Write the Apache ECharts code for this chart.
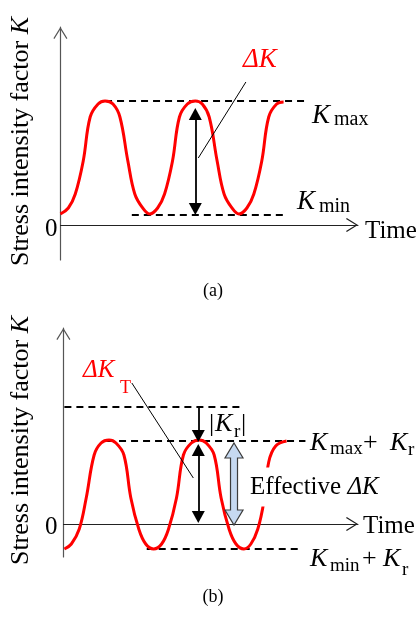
<!DOCTYPE html>
<html>
<head>
<meta charset="utf-8">
<script src="https://cdn.jsdelivr.net/npm/echarts@6/dist/echarts.min.js"></script>
<style>
  html, body { margin: 0; padding: 0; background: #fff; }
  #chart { width: 420px; height: 617px; }
</style>
</head>
<body>
<div id="chart"></div>
<script>
// schematic units; K = 0 is the time axis

// (a) cyclic loading
const curveA = [[0,11],[8,17],[15,31],[23,64],[30,108],[38,121],[45,124],[53,121],[60,108],[68,64],[75,31],[83,17],
  [90,11],[98,17],[105,31],[113,64],[120,108],[128,121],[136,124],[143,121],[150,108],[158,64],[165,31],[173,17],
  [180,11],[188,17],[195,31],[203,64],[210,108],[218,121],[225,123]];
const kmaxA = [[45,124],[247,124]];
const kminA = [[72,10],[227,10]];
const deltaArrowA = [[136,111],[136,16]];
const leaderA = [[187,143],[139,67]];

// (b) same loading shifted down by the residual K_r
const curveB = [[1,-25],[8,-20],[16,-5],[23,26],[31,69],[38,81],[46,84],[53,81],[61,69],[68,26],[76,-5],[83,-20],
  [91,-25],[99,-20],[106,-5],[114,26],[121,69],[129,81],[137,84],[144,81],[152,69],[159,26],[167,-5],[174,-20],
  [182,-25],[189,-20],[196,-5],[202,22],[207,62],[214,78],[225,83]];
const kmaxB = [[1,117],[179,117]];
const kmaxShiftB = [[44,83],[244,83]];
const kminShiftB = [[84,-25],[241,-25]];
const krArrowB = [[136,117],[136,88]];
const totalArrowB = [[136,74],[136,7]];
const effArrowB = [[172,81],[172,-1]];
const leaderB = [[69,141],[131,46]];

const serif = '"Liberation Serif", "DejaVu Serif", serif';
const chevron = 'path://M7,0 L14,11.2 L13,12 L7,2.2 L1,12 L0,11.2 Z';

function xAxisFor(gi, max, gap, padTop) {
  return {
    type: 'value', gridIndex: gi, min: 0, max: max,
    axisLine: { onZero: true, lineStyle: { color: '#222', width: 1 },
      symbol: ['none', chevron], symbolSize: [14, 12], symbolOffset: [0, -6] },
    axisTick: { show: false }, axisLabel: { show: false }, splitLine: { show: false },
    name: '{t|Time}', nameLocation: 'end', nameGap: gap,
    nameTextStyle: { align: 'left', verticalAlign: 'middle',
      rich: { t: { fontFamily: serif, fontSize: 25, color: '#000', padding: [padTop, 0, 0, 0] } } }
  };
}

function yAxisFor(gi, min, max, padTop, labelMargin) {
  return {
    type: 'value', gridIndex: gi, min: min, max: max,
    axisLine: { lineStyle: { color: '#555', width: 1.2 },
      symbol: ['none', chevron], symbolSize: [14, 12], symbolOffset: [0, -6] },
    axisTick: { show: false }, splitLine: { show: false },
    axisLabel: { customValues: [0], margin: labelMargin, formatter: '{z|{value}}',
      rich: { z: { fontFamily: serif, fontSize: 25, color: '#000', padding: [padTop, 0, 0, 0] } } },
    name: '{a|Stress intensity factor }{b|K}', nameLocation: 'middle', nameRotate: 90, nameGap: 35,
    nameTextStyle: { align: 'center', verticalAlign: 'middle', padding: [0, 0, 0, 4],
      rich: { a: { fontFamily: serif, fontSize: 26, color: '#000' },
              b: { fontFamily: serif, fontSize: 26, fontStyle: 'italic', color: '#000' } } }
  };
}

function curve(gi, data) {
  return { type: 'line', xAxisIndex: gi, yAxisIndex: gi, data: data, smooth: 0.4, showSymbol: false,
    symbol: 'none', silent: true, z: 3, lineStyle: { color: '#ff0000', width: 3 } };
}
function dashed(gi, data) {
  return { type: 'line', xAxisIndex: gi, yAxisIndex: gi, data: data, showSymbol: false, symbol: 'none',
    silent: true, z: 2, lineStyle: { color: '#000', width: 1.8, type: [7, 5] } };
}
function leader(gi, data, arrows) {
  return { type: 'line', xAxisIndex: gi, yAxisIndex: gi, data: data, showSymbol: false, symbol: 'none',
    silent: true, z: 4, lineStyle: { color: '#000', width: 1 },
    markLine: { silent: true, animation: false, symbol: ['triangle', 'triangle'], symbolSize: [13, 12],
      label: { show: false }, lineStyle: { color: '#000', width: 1.8, type: 'solid' }, data: arrows } };
}

function txt(x, y, text, size, opts) {
  return Object.assign({ type: 'text', x: x, y: y, z: 100,
    style: Object.assign({ text: text, fontFamily: serif, fontSize: size, fill: '#000',
      align: 'left', verticalAlign: 'middle' }, opts || {}) });
}
const it = { fontStyle: 'italic' };
const red = { fill: '#ff0000' };
const redIt = { fill: '#ff0000', fontStyle: 'italic' };

const chart = echarts.init(document.getElementById('chart'));
chart.setOption({
  animation: false,
  backgroundColor: '#fff',
  grid: [
    { left: 58, top: 27, width: 300, height: 233 },
    { left: 61, top: 328, width: 297, height: 229 }
  ],
  xAxis: [xAxisFor(0, 300, 7, 12), xAxisFor(1, 297, 5, 4)],
  yAxis: [yAxisFor(0, -35, 198, 8, 3), yAxisFor(1, -33, 196, 6, 6)],
  series: [
    dashed(0, kmaxA), dashed(0, kminA),
    curve(0, curveA),
    leader(0, leaderA, [[{ coord: deltaArrowA[0] }, { coord: deltaArrowA[1] }]]),
    dashed(1, kmaxB), dashed(1, kmaxShiftB), dashed(1, kminShiftB),
    curve(1, curveB),
    leader(1, leaderB, [
      [{ coord: krArrowB[0], symbol: 'none' }, { coord: krArrowB[1], symbol: 'triangle' }],
      [{ coord: totalArrowB[0] }, { coord: totalArrowB[1] }]
    ]),
    {
      type: 'custom', xAxisIndex: 1, yAxisIndex: 1, silent: true, z: 4,
      data: [[effArrowB[0][0], effArrowB[0][1], effArrowB[1][1]]],
      renderItem: function (params, api) {
        const t = api.coord([api.value(0), api.value(1)]);
        const b = api.coord([api.value(0), api.value(2)]);
        const cx = t[0], hw = 9, sw = 3.5, hl = 15;
        return {
          type: 'polygon',
          shape: { points: [[cx, t[1]], [cx + hw, t[1] + hl], [cx + sw, t[1] + hl], [cx + sw, b[1] - hl], [cx + hw, b[1] - hl],
            [cx, b[1]], [cx - hw, b[1] - hl], [cx - sw, b[1] - hl], [cx - sw, t[1] + hl], [cx - hw, t[1] + hl]] },
          style: { fill: '#c6d9f1', stroke: '#3c3c3c', lineWidth: 1.2 }
        };
      }
    }
  ],
  graphic: [
    // (a)
    txt(243, 60, 'ΔK', 27, redIt),
    txt(312, 116, 'K', 27, it), txt(334, 120, 'max', 20),
    txt(297, 202, 'K', 27, it), txt(319, 207, 'min', 20),
    txt(213, 291, '(a)', 18, { align: 'center' }),
    // (b)
    txt(83, 370, 'ΔK', 25, redIt), txt(120, 388, 'T', 18, red),
    txt(209, 424, '|', 26), txt(215, 424, 'K', 26, it), txt(234, 432, 'r', 19), txt(241, 424, '|', 26),
    txt(310, 443, 'K', 26, it), txt(330, 449, 'max', 19), txt(363, 443, '+', 26),
    txt(390, 443, 'K', 26, it), txt(408, 450, 'r', 19),
    txt(310, 559, 'K', 26, it), txt(330, 566, 'min', 19), txt(362, 559, '+', 26),
    txt(383, 559, 'K', 26, it), txt(402, 570, 'r', 19),
    {
      type: 'text', x: 248, y: 487, z: 100,
      style: { text: '{a|Effective }{b|ΔK}', align: 'left', verticalAlign: 'middle',
        backgroundColor: '#fff', padding: [7, 2, 7, 2],
        rich: { a: { fontFamily: serif, fontSize: 25, fill: '#000' },
                b: { fontFamily: serif, fontSize: 25, fontStyle: 'italic', fill: '#000' } } }
    },
    txt(213, 597, '(b)', 18, { align: 'center' })
  ]
});
</script>
</body>
</html>
